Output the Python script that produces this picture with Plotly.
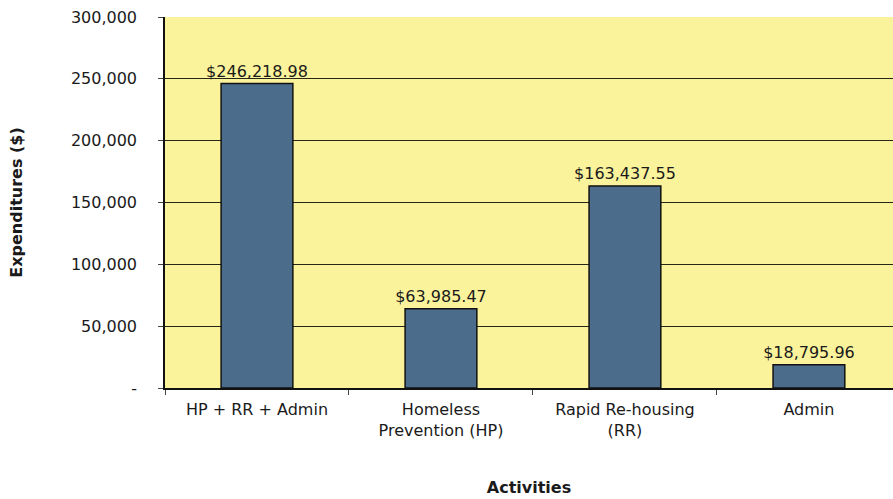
import plotly.graph_objects as go

# Expenditures by activity
categories = ["HP + RR + Admin", "Homeless<br>Prevention (HP)", "Rapid Re-housing<br>(RR)", "Admin"]
expenditures = [246218.98, 63985.47, 163437.55, 18795.96]

y_tick_values = [0, 50000, 100000, 150000, 200000, 250000, 300000]
y_tick_labels = ["-", "50,000", "100,000", "150,000", "200,000", "250,000", "300,000"]

FONT = "DejaVu Sans, Liberation Sans, Arial, sans-serif"
INK = "#1a1a1a"

fig = go.Figure(
    go.Bar(
        x=categories,
        y=expenditures,
        width=0.39,
        marker=dict(color="#4C6C8C", line=dict(color="#111111", width=1.5)),
        texttemplate="$%{y:,.2f}",
        textposition="outside",
        constraintext="none",
        textfont=dict(family=FONT, size=16, color=INK),
        cliponaxis=False,
    )
)

fig.update_layout(
    width=893,
    height=499,
    margin=dict(l=165, r=0, t=17, b=111),
    paper_bgcolor="white",
    plot_bgcolor="#FAF39C",
    showlegend=False,
    font=dict(family=FONT, size=16, color=INK),
)

fig.update_xaxes(
    type="category",
    range=[-0.5, 3.457],
    showline=True,
    linecolor="#111111",
    linewidth=1.5,
    ticks="outside",
    tickson="boundaries",
    ticklen=5,
    tickcolor="#444444",
    ticklabelstandoff=6,
    showgrid=False,
    tickfont=dict(family=FONT, size=16, color=INK),
    title=dict(text="<b>Activities</b>", font=dict(family=FONT, size=16, color=INK), standoff=43),
)

fig.update_yaxes(
    range=[0, 300000],
    tickvals=y_tick_values,
    ticktext=y_tick_labels,
    showline=True,
    linecolor="#111111",
    linewidth=1.5,
    ticks="outside",
    ticklen=5,
    tickcolor="#444444",
    ticklabelstandoff=18,
    showgrid=True,
    gridcolor="#262616",
    gridwidth=1.2,
    zeroline=False,
    tickfont=dict(family=FONT, size=16, color=INK),
    title=dict(text="<b>Expenditures ($)</b>", font=dict(family=FONT, size=16, color=INK), standoff=44),
)

fig.write_html("out.html")
